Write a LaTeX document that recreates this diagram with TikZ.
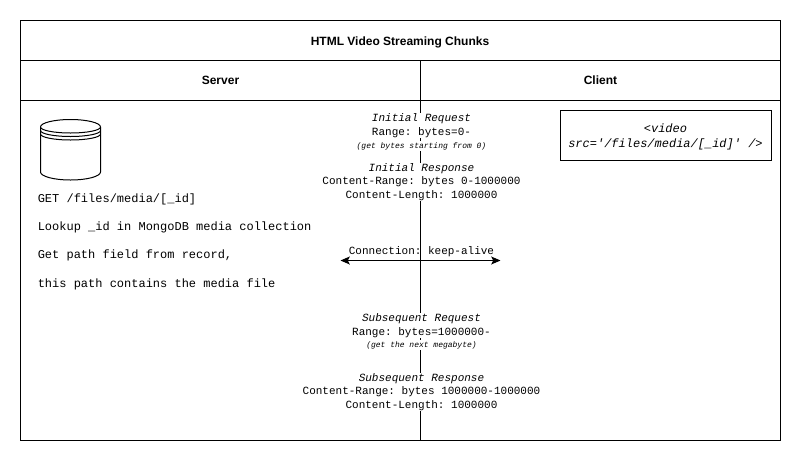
\documentclass[tikz,border=0pt]{standalone}
\usepackage{fontspec}
\usetikzlibrary{arrows.meta}
\setmainfont{Liberation Sans}
\newfontfamily\cour{Liberation Mono}
\frenchspacing
\begin{document}
\begin{tikzpicture}[x=0.75pt,y=-0.75pt,
  frame/.style={draw=black,line width=0.75pt,fill=none},
  mono/.style={font=\frenchspacing\cour\fontsize{8.25pt}{10pt}\selectfont,align=center,inner sep=0.75pt},
  monol/.style={font=\frenchspacing\cour\fontsize{9pt}{11pt}\selectfont,anchor=west,inner sep=0pt},
  head/.style={font=\bfseries\fontsize{9pt}{11pt}\selectfont,inner sep=0pt},
  onwire/.style={mono,fill=white},
  tiny/.style={font=\frenchspacing\cour\itshape\fontsize{6pt}{7pt}\selectfont,inner sep=0.75pt,fill=white}]
\useasboundingbox (0,0) rectangle (801,461);
\fill[white] (0,0) rectangle (801,461);
\coordinate (wt) at (420.5,60.5);
\coordinate (wb) at (420.5,440.5);
\draw[frame] (20.5,20.5) rectangle (780.5,440.5);
\draw[frame] (20.5,60.5) -- (780.5,60.5);
\draw[frame] (20.5,100.5) -- (780.5,100.5);
\draw[frame] (wt) -- (wb);
\node[head] (title) at (400,42) {HTML Video Streaming Chunks};
\node[head] (server) at (220.5,80.5) {Server};
\node[head] (client) at (600.5,80.5) {Client};
% database
\draw[frame,fill=white] (40.5,127) arc[start angle=180,end angle=360,x radius=30,y radius=7.5]
  -- (100.5,172) arc[start angle=0,end angle=180,x radius=30,y radius=8] -- cycle;
\draw[frame] (40.5,127) arc[start angle=180,end angle=0,x radius=30,y radius=6];
\draw[frame] (40.5,130.5) arc[start angle=180,end angle=0,x radius=30,y radius=6];
\draw[frame] (40.5,134) arc[start angle=180,end angle=0,x radius=30,y radius=6];
\node[monol] (l1) at (37.5,199.5) {GET /files/media/[\_id]};
\node[monol] (l2) at (37.5,227.5) {Lookup \_id in MongoDB media collection};
\node[monol] (l3) at (37.5,255.5) {Get path field from record,};
\node[monol] (l4) at (37.5,284.5) {this path contains the media file};
% wire labels
\node[onwire] (ireq) at (421.5,125.5) {\itshape Initial Request\\Range: bytes=0-};
\node[tiny] (inote) at (421.5,146) {(get bytes starting from 0)};
\node[onwire] (ires) at (421.5,182) {\itshape Initial Response\\Content-Range: bytes 0-1000000\\Content-Length: 1000000};
\node[mono] (keep) at (421.5,252) {Connection: keep-alive};
\coordinate (al) at (340.5,260.5);
\coordinate (ar) at (500.5,260.5);
\draw[frame,{Stealth[length=7pt,width=6pt,inset=1.5pt]}-{Stealth[length=7pt,width=6pt,inset=1.5pt]}] (al) -- (ar);
\node[onwire] (sreq) at (421.5,325.5) {\itshape Subsequent Request\\Range: bytes=1000000-};
\node[tiny] (snote) at (421.5,345) {(get the next megabyte)};
\node[onwire] (sres) at (421.5,392) {\itshape Subsequent Response\\Content-Range: bytes 1000000-1000000\\Content-Length: 1000000};
\node[draw=black,line width=0.75pt,minimum width=158.25pt,minimum height=37.5pt,inner sep=0pt,
  label={[align=center,inner sep=0pt,yshift=-0.8pt,font=\frenchspacing\cour\itshape\fontsize{9pt}{11.5pt}\selectfont]center:<video\\src='/files/media/[\_id]' />}] (video) at (665.5,135.5) {};
\end{tikzpicture}
\end{document}
